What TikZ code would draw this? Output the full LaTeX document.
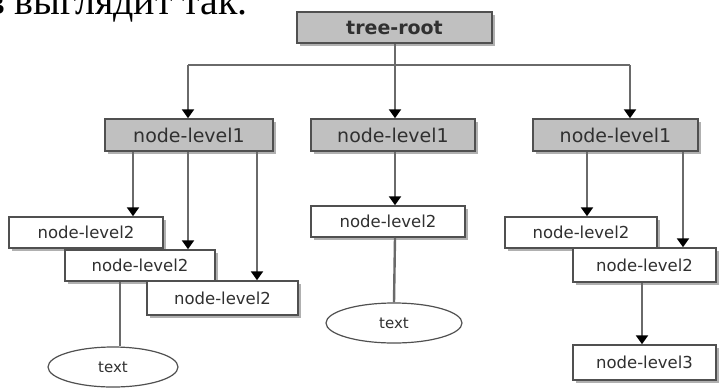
\documentclass[tikz,border=0pt]{standalone}
\usepackage{fontspec}
\newfontfamily\dvs{DejaVu Sans}
\newfontfamily\serf{Liberation Serif}
\usetikzlibrary{arrows.meta,shadows,shapes.geometric}
\definecolor{boxgray}{HTML}{C0C0C0}
\definecolor{edge}{HTML}{505050}
\definecolor{linegray}{HTML}{6A6A6A}
\definecolor{shad}{HTML}{B0B0B0}
\definecolor{txt}{HTML}{303030}
\tikzset{
 basebox/.style={draw=edge, line width=1.5pt, rectangle, inner sep=0pt, text=txt,
   drop shadow={shadow xshift=3pt, shadow yshift=-3pt, fill=shad, opacity=1}},
 rootbox/.style={basebox, fill=boxgray, font=\dvs\bfseries\fontsize{19}{21}\selectfont},
 lvlone/.style={basebox, fill=boxgray, font=\dvs\fontsize{19}{21}\selectfont},
 lvltwo/.style={basebox, fill=white, font=\dvs\fontsize{16.5}{18}\selectfont},
 txtell/.style={ellipse, draw=edge, line width=1.2pt, fill=white, inner sep=0pt,
   font=\dvs\fontsize{15}{17}\selectfont, text=txt},
 link/.style={draw=linegray, line width=2.4pt},
 arr/.style={link, -{Triangle[width=12pt,length=9pt,color=black,fill=black]}},
}
\begin{document}
\begin{tikzpicture}[x=1pt,y=-1pt]
\useasboundingbox (0,0) rectangle (719,388);
\clip (0,0) rectangle (719,388);
\node[anchor=base east, font=\serf\fontsize{40}{44}\selectfont, inner sep=0pt, text=black] (cap) at (248,14) {ов выглядит так.};

\node[rootbox, minimum width=195pt, minimum height=31pt] (root) at (394.5,27.5) {tree-root};

\node[lvlone, minimum width=168pt, minimum height=32pt] (L1a) at (189,135) {node-level1};
\node[lvlone, minimum width=164pt, minimum height=32pt] (L1b) at (393,135) {node-level1};
\node[lvlone, minimum width=165pt, minimum height=32pt] (L1c) at (615.5,135) {node-level1};

\node[lvltwo, minimum width=154pt, minimum height=31pt] (A) at (86,232.5) {node-level2};
\node[lvltwo, minimum width=150pt, minimum height=31pt] (B) at (140,265.5) {node-level2};
\node[lvltwo, minimum width=151pt, minimum height=34pt] (C) at (222.5,298) {node-level2};
\node[lvltwo, minimum width=154pt, minimum height=31pt] (M2) at (388,221.5) {node-level2};
\node[lvltwo, minimum width=152pt, minimum height=31pt] (D) at (581,232.5) {node-level2};
\node[lvltwo, minimum width=143pt, minimum height=34pt] (E) at (644.5,265) {node-level2};
\node[lvltwo, minimum width=143pt, minimum height=35pt] (L3) at (644.5,362.5) {node-level3};

\node[txtell, minimum width=130pt, minimum height=40pt] (T1) at (113,367) {text};
\node[txtell, minimum width=136pt, minimum height=40pt] (T2) at (394,323) {text};

\coordinate (hl) at (188,65);
\coordinate (hm) at (395,65);
\coordinate (hr) at (630,65);
\coordinate (xa) at (133,0);
\coordinate (xb) at (188,0);
\coordinate (xc) at (257,0);
\coordinate (xt) at (120,0);
\coordinate (xd) at (587,0);
\coordinate (xe) at (683,0);
\coordinate (xf) at (642,0);

\draw[link] (root.south -| hm) -- (hm);
\draw[link] (hl) -- (hr);
\draw[arr] (hl) -- (hl |- L1a.north);
\draw[arr] (hm) -- (hm |- L1b.north);
\draw[arr] (hr) -- (hr |- L1c.north);

\draw[arr] (L1a.south -| xa) -- (A.north -| xa);
\draw[arr] (L1a.south -| xb) -- (B.north -| xb);
\draw[arr] (L1a.south -| xc) -- (C.north -| xc);
\draw[link] (B.south -| xt) -- (T1.north -| xt);

\draw[arr] (L1b.south -| hm) -- (M2.north -| hm);
\draw[link] (M2.south -| hm) -- (T2.north);

\draw[arr] (L1c.south -| xd) -- (D.north -| xd);
\draw[arr] (L1c.south -| xe) -- (E.north -| xe);
\draw[arr] (E.south -| xf) -- (L3.north -| xf);
\end{tikzpicture}
\end{document}
